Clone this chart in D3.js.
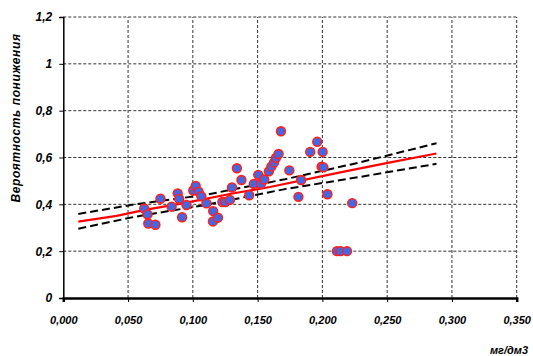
<!DOCTYPE html>
<html>
<head>
<meta charset="utf-8">
<script src="https://cdn.jsdelivr.net/npm/d3@7"></script>
<style>
  body { margin: 0; background: #fff; }
  text { font-family: "Liberation Sans", Arial, sans-serif; font-weight: bold; font-style: italic; }
</style>
</head>
<body>
<script>
// tick labels
var xTicks = [0, 0.05, 0.10, 0.15, 0.20, 0.25, 0.30, 0.35];
var xTickLabels = ["0,000", "0,050", "0,100", "0,150", "0,200", "0,250", "0,300", "0,350"];
var yTicks = [0, 0.2, 0.4, 0.6, 0.8, 1.0, 1.2];
var yTickLabels = ["0", "0,2", "0,4", "0,6", "0,8", "1", "1,2"];

// observations (concentration, probability)
var obsX = [0.0625, 0.065, 0.0656, 0.0711, 0.075, 0.0836, 0.0883, 0.0895, 0.0917, 0.0951,
  0.1003, 0.1022, 0.1045, 0.1066, 0.1105, 0.1157, 0.1155, 0.1194, 0.1228, 0.1251,
  0.1286, 0.1302, 0.134, 0.1375, 0.1435, 0.1471, 0.1505, 0.1525, 0.1551, 0.1587,
  0.1606, 0.1626, 0.1641, 0.1662, 0.168, 0.1745, 0.1815, 0.1836, 0.1906, 0.196,
  0.2002, 0.1994, 0.2008, 0.2039, 0.223, 0.2112, 0.214, 0.219];
var obsY = [0.382, 0.357, 0.318, 0.313, 0.424, 0.390, 0.447, 0.423, 0.345, 0.397,
  0.459, 0.479, 0.454, 0.434, 0.404, 0.371, 0.327, 0.343, 0.410, 0.410,
  0.419, 0.472, 0.554, 0.504, 0.439, 0.487, 0.526, 0.487, 0.506, 0.541,
  0.561, 0.578, 0.598, 0.615, 0.712, 0.545, 0.432, 0.504, 0.624, 0.667,
  0.624, 0.561, 0.558, 0.443, 0.405, 0.200, 0.200, 0.200];

// fitted line
var fitX = [0.0116, 0.0412, 0.063, 0.0952, 0.1286, 0.1595, 0.211, 0.2495, 0.288];
var fitY = [0.326, 0.351, 0.376, 0.407, 0.444, 0.474, 0.533, 0.576, 0.617];

// confidence bounds
var bandX = [0.0116, 0.0553, 0.1093, 0.1711, 0.2289, 0.2881];
var upperY = [0.359, 0.400, 0.440, 0.507, 0.579, 0.661];
var lowerY = [0.296, 0.347, 0.397, 0.465, 0.517, 0.573];

var width = 533, height = 356;
var margin = {top: 17, right: 16.3, bottom: 58, left: 63.3};

var svg = d3.select("body").append("svg")
  .attr("width", width)
  .attr("height", height);

svg.append("rect").attr("width", width).attr("height", height).attr("fill", "#fff");

var x = d3.scaleLinear().domain([0, 0.35]).range([margin.left, width - margin.right]);
var y = d3.scaleLinear().domain([0, 1.2]).range([height - margin.bottom, margin.top]);

// grid
svg.append("g").selectAll("line").data(yTicks.slice(1)).join("line")
  .attr("x1", x(0)).attr("x2", x(0.35))
  .attr("y1", function(d) { return y(d); }).attr("y2", function(d) { return y(d); })
  .attr("stroke", "#333").attr("stroke-width", 1).attr("stroke-dasharray", "3,2");

svg.append("g").selectAll("line").data(xTicks.slice(1)).join("line")
  .attr("x1", function(d) { return x(d); }).attr("x2", function(d) { return x(d); })
  .attr("y1", y(0)).attr("y2", y(1.2))
  .attr("stroke", "#333").attr("stroke-width", 1).attr("stroke-dasharray", "3,2");

// axes
var yAxis = svg.append("g")
  .attr("transform", "translate(" + x(0) + ",0)")
  .call(d3.axisLeft(y).tickValues(yTicks).tickSize(4).tickPadding(7)
    .tickFormat(function(d, i) { return yTickLabels[i]; }));
yAxis.select(".domain").attr("stroke", "#000").attr("stroke-width", 1.5);
yAxis.selectAll("text").attr("font-size", 12).attr("fill", "#000");

var xAxis = svg.append("g")
  .attr("transform", "translate(0," + y(0) + ")")
  .call(d3.axisBottom(x).tickValues(xTicks).tickSize(4).tickPadding(14)
    .tickFormat(function(d, i) { return xTickLabels[i]; }));
xAxis.select(".domain").attr("stroke", "#000").attr("stroke-width", 2.5);
xAxis.selectAll("text").attr("font-size", 11).attr("fill", "#000");

// lines
var line = d3.line()
  .x(function(d) { return x(d[0]); })
  .y(function(d) { return y(d[1]); });

svg.append("path")
  .datum(bandX.map(function(d, i) { return [d, upperY[i]]; }))
  .attr("d", line).attr("fill", "none").attr("stroke", "#000")
  .attr("stroke-width", 2).attr("stroke-dasharray", "8,4");

svg.append("path")
  .datum(bandX.map(function(d, i) { return [d, lowerY[i]]; }))
  .attr("d", line).attr("fill", "none").attr("stroke", "#000")
  .attr("stroke-width", 2).attr("stroke-dasharray", "8,4");

svg.append("path")
  .datum(fitX.map(function(d, i) { return [d, fitY[i]]; }))
  .attr("d", line).attr("fill", "none").attr("stroke", "#ff0000")
  .attr("stroke-width", 2.2);

// points
svg.append("g").selectAll("circle").data(obsX).join("circle")
  .attr("cx", function(d) { return x(d); })
  .attr("cy", function(d, i) { return y(obsY[i]); })
  .attr("r", 4.4)
  .attr("fill", "#4169e6")
  .attr("stroke", "#ff2020")
  .attr("stroke-width", 1.6);

// axis titles
svg.append("text")
  .attr("transform", "translate(20,118) rotate(-90)")
  .attr("text-anchor", "middle")
  .attr("font-size", 12)
  .attr("letter-spacing", 0.6)
  .text("Вероятность понижения");

svg.append("text")
  .attr("x", 528).attr("y", 354)
  .attr("text-anchor", "end")
  .attr("font-size", 11)
  .text("мг/дм3");
</script>
</body>
</html>
